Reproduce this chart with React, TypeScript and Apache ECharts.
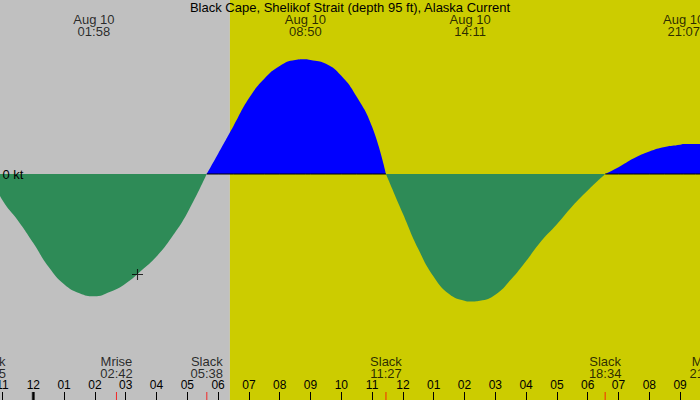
import { useEffect, useRef } from "react";
import * as echarts from "echarts";

const TITLE = "Black Cape, Shelikof Strait (depth 95 ft), Alaska Current";

// hours after midnight Aug 10 (negative = Aug 9) and current in knots
const CURVE_HOURS = [
  -1.42, -1, -0.5, 0, 0.5, 1, 1.5, 1.97, 2.5, 3, 3.5, 4, 4.5, 5, 5.63, 6, 6.5, 7,
  7.5, 8, 8.5, 8.83, 9, 9.5, 10, 10.5, 11, 11.45, 12, 12.5, 13, 13.5, 14, 14.18,
  14.5, 15, 15.5, 16, 16.5, 17, 17.5, 18, 18.57, 19, 19.5, 20, 20.5, 21, 21.12,
  21.5, 22,
];
const CURVE_KT = [
  0, -0.35, -0.62, -0.92, -1.24, -1.47, -1.59, -1.63, -1.57, -1.46, -1.29, -1.1,
  -0.84, -0.52, 0, 0.27, 0.64, 1.01, 1.27, 1.44, 1.52, 1.53, 1.52, 1.47, 1.31,
  1.03, 0.63, 0, -0.53, -1.0, -1.37, -1.6, -1.69, -1.7, -1.69, -1.61, -1.41,
  -1.16, -0.89, -0.67, -0.43, -0.22, 0, 0.09, 0.21, 0.3, 0.36, 0.39, 0.4, 0.4,
  0.39,
];

const MAX_TIMES = ["01:58", "08:50", "14:11", "21:07"];
const MAX_DATE = "Aug 10";

const EVENT_NAMES = ["Slack", "Mrise", "Slack", "Slack", "Slack", "Mset"];
const EVENT_TIMES = ["22:35", "02:42", "05:38", "11:27", "18:34", "21:50"];
const EVENT_DAYS = [9, 10, 10, 10, 10, 10];

const SUNRISE = "06:23";
const MIDNIGHTS = [0];
const MARKER = { time: "03:23", kt: -1.34 };

const NIGHT = "#c0c0c0";
const DAY = "#cccc00";
const FLOOD = "#0000ff";
const EBB = "#2e8b57";
const FONT = "'Liberation Sans', Arial, sans-serif";

const X_MIN = -2;
const X_MAX = 22;
const Y_MIN = -226 / 75;
const Y_MAX = 174 / 75;

const hm = (s: string, day = 10) => {
  const [h, m] = s.split(":").map(Number);
  return h + m / 60 + (day - 10) * 24;
};

const hourLabel = (v: number) => {
  const h = (((Math.round(v) % 12) + 12) % 12) || 12;
  return String(h).padStart(2, "0");
};

export default function App() {
  const ref = useRef<HTMLDivElement>(null);

  useEffect(() => {
    if (!ref.current) return;
    document.body.style.margin = "0";
    const chart = echarts.init(ref.current, null, { renderer: "svg" });

    const ebb = CURVE_HOURS.map((h, i) => [h, CURVE_KT[i] <= 0 ? CURVE_KT[i] : "-"]);
    const flood = CURVE_HOURS.map((h, i) => [h, CURVE_KT[i] >= 0 ? CURVE_KT[i] : "-"]);
    const zero = CURVE_HOURS.map((h, i) => {
      const prev = CURVE_KT[i - 1] ?? -1;
      const next = CURVE_KT[i + 1] ?? -1;
      const v = CURVE_KT[i];
      const onFlood = v > 0 || (v === 0 && (prev > 0 || next > 0));
      return [h, onFlood ? 0 : "-"];
    });
    const sunrise = hm(SUNRISE);

    const curve = {
      type: "line",
      z: 2,
      smooth: 0.5,
      symbol: "none",
      silent: true,
      lineStyle: { width: 0 },
    };

    chart.setOption({
      animation: false,
      title: {
        text: TITLE,
        left: "center",
        top: 0,
        padding: [1, 0, 0, 0],
        textStyle: { fontSize: 13, fontWeight: "normal", color: "#000", fontFamily: FONT },
      },
      grid: {
        left: -28.3,
        width: 739.2,
        top: 0,
        height: 400,
        containLabel: false,
        outerBoundsMode: "none",
      },
      xAxis: {
        type: "value",
        z: 10,
        min: X_MIN,
        max: X_MAX,
        interval: 1,
        splitLine: { show: false },
        axisLine: { show: false, onZero: false },
        axisTick: { inside: true, length: 8, lineStyle: { color: "#000" } },
        axisLabel: {
          inside: true,
          margin: 9,
          fontSize: 12,
          color: "#000",
          fontFamily: FONT,
          hideOverlap: false,
          formatter: hourLabel,
        },
      },
      yAxis: {
        type: "value",
        z: 10,
        min: Y_MIN,
        max: Y_MAX,
        offset: -28.3,
        splitLine: { show: false },
        axisLine: { show: false, onZero: false },
        axisTick: { show: false },
        axisLabel: {
          inside: true,
          margin: 2.5,
          fontSize: 13,
          color: "#000",
          fontFamily: FONT,
          showMinLabel: false,
          showMaxLabel: false,
          formatter: (v: number) => (v === 0 ? "0 kt" : ""),
        },
      },
      series: [
        {
          type: "line",
          data: [],
          z: 0,
          silent: true,
          markArea: {
            silent: true,
            data: [
              [{ xAxis: X_MIN, itemStyle: { color: NIGHT } }, { xAxis: sunrise }],
              [{ xAxis: sunrise, itemStyle: { color: DAY } }, { xAxis: X_MAX }],
            ],
          },
        },
        { ...curve, data: ebb, areaStyle: { color: EBB, opacity: 1 } },
        { ...curve, data: flood, areaStyle: { color: FLOOD, opacity: 1 } },
        {
          type: "line",
          data: zero,
          z: 3,
          symbol: "none",
          silent: true,
          lineStyle: { color: "#000", width: 1 },
        },
        {
          type: "scatter",
          z: 4,
          silent: true,
          symbol: "rect",
          symbolSize: [1, 16],
          itemStyle: { color: "#ff0000" },
          data: EVENT_TIMES.map((t, i) => ({
            value: [hm(t, EVENT_DAYS[i]), Y_MIN],
            name: EVENT_NAMES[i],
            time: t,
          })),
          label: {
            show: true,
            position: "top",
            distance: 13,
            fontSize: 13,
            lineHeight: 12,
            color: "#000",
            fontFamily: FONT,
            formatter: (p: any) => `${p.data.name}\n${p.data.time}`,
          },
        },
        {
          type: "scatter",
          z: 4,
          silent: true,
          symbol: "rect",
          symbolSize: [3, 16],
          itemStyle: { color: "#000" },
          data: MIDNIGHTS.map((h) => [h, Y_MIN]),
        },
        {
          type: "scatter",
          z: 4,
          silent: true,
          symbolSize: 0,
          data: MAX_TIMES.map((t) => ({ value: [hm(t), Y_MAX], time: t })),
          label: {
            show: true,
            position: "bottom",
            distance: 13,
            fontSize: 13,
            lineHeight: 12,
            color: "#000",
            fontFamily: FONT,
            formatter: (p: any) => `${MAX_DATE}\n${p.data.time}`,
          },
        },
        {
          type: "scatter",
          z: 5,
          silent: true,
          symbol: "path://M9,0H11V9H20V11H11V20H9V11H0V9H9Z",
          symbolSize: 11,
          itemStyle: { color: "#000" },
          data: [[hm(MARKER.time), MARKER.kt]],
        },
      ],
    });

    return () => chart.dispose();
  }, []);

  return (
    <div
      ref={ref}
      style={{ position: "absolute", left: 0, top: 0, width: 700, height: 400 }}
    />
  );
}
